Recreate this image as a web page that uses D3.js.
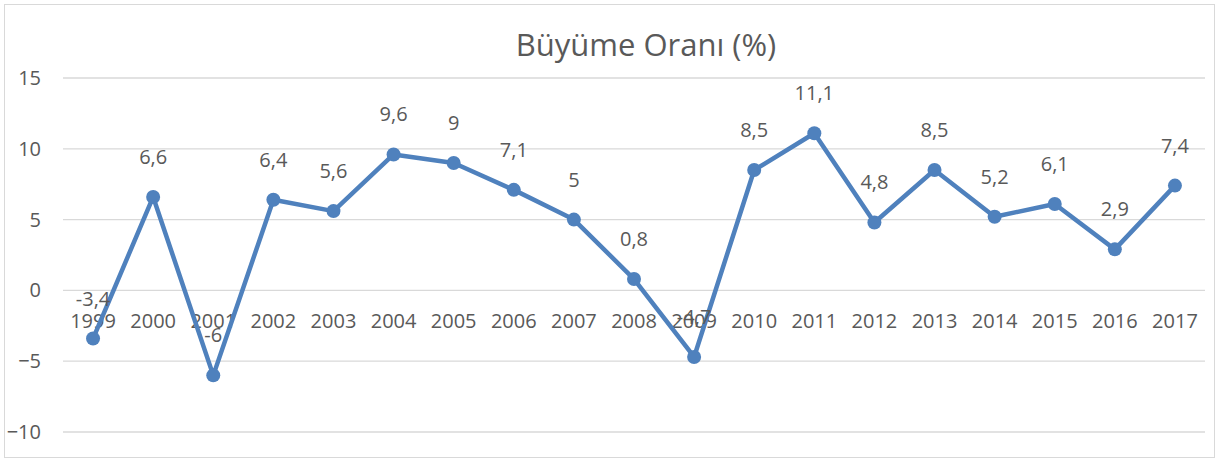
<!DOCTYPE html>
<html>
  <head>
    <title>Büyüme Oranı</title>
    <script src="https://d3js.org/d3.v7.min.js"></script>
    <style>
      body { margin: 0; background: #fff; }
      text { font-family: "Open Sans", "Liberation Sans", sans-serif; fill: #595959; }
    </style>
  </head>
  <body>
    <div id="chart"></div>
    <script>
// Data
const years = ["1999","2000","2001","2002","2003","2004","2005","2006","2007","2008",
               "2009","2010","2011","2012","2013","2014","2015","2016","2017"];
const growth = [-3.4, 6.6, -6, 6.4, 5.6, 9.6, 9, 7.1, 5, 0.8,
                -4.7, 8.5, 11.1, 4.8, 8.5, 5.2, 6.1, 2.9, 7.4];
const yTicks = [-10, -5, 0, 5, 10, 15];

const data = years.map((y, i) => ({ year: y, value: growth[i] }));

// Dimensions
const width = 1219;
const height = 462;
const marginLeft = 63;
const marginRight = 14;
const marginTop = 78;
const marginBottom = 30;

function createChart() {
  const x = d3.scaleBand()
    .domain(years)
    .range([marginLeft, width - marginRight])
    .padding(0);

  const y = d3.scaleLinear()
    .domain([-10, 15])
    .range([height - marginBottom, marginTop]);

  const svg = d3.select("#chart").append("svg")
    .attr("width", width)
    .attr("height", height)
    .attr("viewBox", [0, 0, width, height]);

  // Chart border
  svg.append("rect")
    .attr("x", 4.5)
    .attr("y", 4.5)
    .attr("width", width - 9)
    .attr("height", height - 9)
    .attr("fill", "#fff")
    .attr("stroke", "#d9d9d9");

  // Title
  svg.append("text")
    .attr("x", 646)
    .attr("y", 56)
    .attr("text-anchor", "middle")
    .style("font-size", "31px")
    .text("Büyüme Oranı (%)");

  // Gridlines
  svg.append("g")
    .selectAll("line")
    .data(yTicks)
    .join("line")
    .attr("x1", marginLeft)
    .attr("x2", width - marginRight)
    .attr("y1", d => y(d))
    .attr("y2", d => y(d))
    .attr("stroke", "#d9d9d9")
    .attr("stroke-width", 1.3);

  // Y axis labels
  const yAxis = svg.append("g")
    .attr("transform", `translate(${marginLeft},0)`)
    .call(d3.axisLeft(y).tickValues(yTicks).tickSize(0).tickPadding(22));
  yAxis.select(".domain").remove();
  yAxis.selectAll("text")
    .style("font-size", "20px")
    .attr("fill", "#595959");

  // X axis labels at zero line
  const xAxis = svg.append("g")
    .attr("transform", `translate(0,${y(0)})`)
    .call(d3.axisBottom(x).tickSize(0).tickPadding(23));
  xAxis.select(".domain").remove();
  xAxis.selectAll("text")
    .style("font-size", "20px")
    .attr("fill", "#595959");

  // Line
  const line = d3.line()
    .x(d => x(d.year) + x.bandwidth() / 2)
    .y(d => y(d.value));

  svg.append("path")
    .datum(data)
    .attr("fill", "none")
    .attr("stroke", "#4f81bd")
    .attr("stroke-width", 4.5)
    .attr("stroke-linejoin", "round")
    .attr("d", line);

  // Markers
  svg.append("g")
    .selectAll("circle")
    .data(data)
    .join("circle")
    .attr("cx", d => x(d.year) + x.bandwidth() / 2)
    .attr("cy", d => y(d.value))
    .attr("r", 7)
    .attr("fill", "#4f81bd");

  // Data labels
  svg.append("g")
    .selectAll("text")
    .data(data)
    .join("text")
    .attr("x", d => x(d.year) + x.bandwidth() / 2)
    .attr("y", d => y(d.value) - 33)
    .attr("text-anchor", "middle")
    .style("font-size", "20px")
    .text(d => String(d.value).replace(".", ","));
}

createChart();
    </script>
  </body>
</html>
